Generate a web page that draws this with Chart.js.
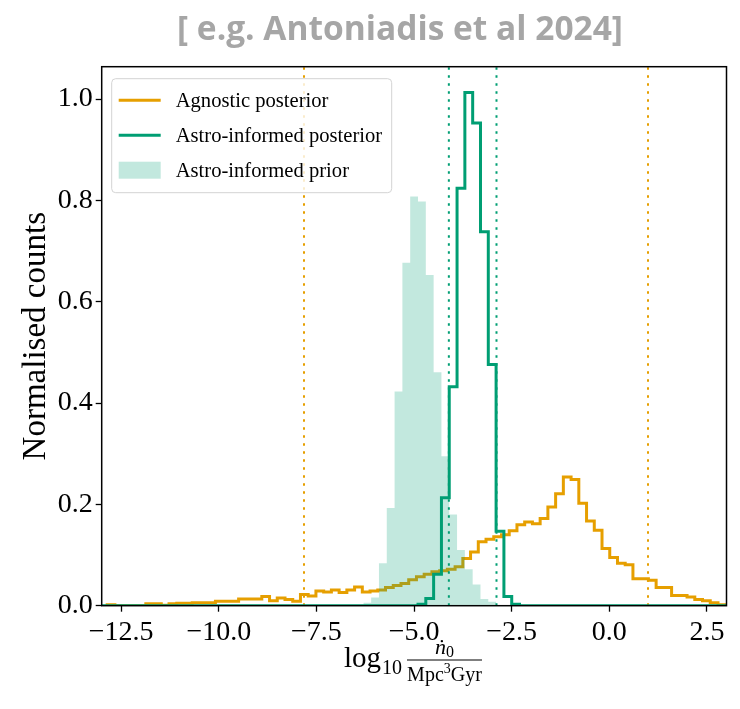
<!DOCTYPE html>
<html>
<head>
<meta charset="utf-8">
<title>Merger rate posteriors</title>
<script src="https://cdn.jsdelivr.net/npm/chart.js@4.4.1/dist/chart.umd.min.js"></script>
<style>
  html, body { margin: 0; padding: 0; background: #ffffff; }
  #wrap { width: 740px; height: 709px; position: relative; }
</style>
</head>
<body>
<div id="wrap"><canvas id="chart" width="740" height="709"></canvas></div>
<script>
// ---- axis ranges and ticks ----
const X_MIN = -13, X_MAX = 3;
const Y_MIN = 0, Y_MAX = 1.064;
const X_TICKS = [-12.5, -10, -7.5, -5, -2.5, 0, 2.5];
const Y_TICKS = [0, 0.2, 0.4, 0.6, 0.8, 1.0];

// ---- agnostic posterior: 80 equal-width bins ----
const AGNOSTIC_START = -12.86;
const AGNOSTIC_BIN = 0.198;
const AGNOSTIC_COUNTS = [
  0.002, 0.000, 0.000, 0.000, 0.000, 0.004, 0.004, 0.001, 0.004, 0.005,
  0.005, 0.006, 0.006, 0.006, 0.009, 0.009, 0.009, 0.013, 0.013, 0.013,
  0.018, 0.010, 0.015, 0.012, 0.009, 0.022, 0.019, 0.029, 0.027, 0.031,
  0.026, 0.031, 0.037, 0.027, 0.029, 0.031, 0.036, 0.040, 0.044, 0.051,
  0.057, 0.062, 0.067, 0.069, 0.072, 0.077, 0.093, 0.106, 0.126, 0.131,
  0.136, 0.140, 0.148, 0.160, 0.165, 0.162, 0.172, 0.195, 0.221, 0.254,
  0.249, 0.202, 0.167, 0.149, 0.113, 0.095, 0.084, 0.081, 0.053, 0.053,
  0.050, 0.036, 0.036, 0.020, 0.020, 0.017, 0.012, 0.010, 0.006, 0.002
];

// ---- astro-informed posterior ----
const ASTRO_START = -4.9;
const ASTRO_BIN = 0.2;
const ASTRO_COUNTS = [
  0.003, 0.014, 0.062, 0.213, 0.432, 0.824, 1.013, 0.953, 0.738, 0.476,
  0.147, 0.018, 0.003
];

// ---- astro-informed prior ----
const PRIOR_START = -6.3;
const PRIOR_BIN = 0.2;
const PRIOR_COUNTS = [
  0.006, 0.016, 0.084, 0.193, 0.423, 0.677, 0.808, 0.798, 0.653, 0.461,
  0.295, 0.180, 0.110, 0.072, 0.042, 0.013, 0.008
];

// ---- 90% credible intervals ----
const AGNOSTIC_INTERVAL = [-7.82, 0.99];
const ASTRO_INTERVAL = [-4.11, -2.89];

const ORANGE = '#E69F00';
const GREEN = '#009E73';
const PRIOR_FILL = 'rgba(0, 158, 115, 0.24)';
const SERIF = '"Liberation Serif", "DejaVu Serif", serif';

// Outline of a step histogram: up from zero at the first edge, across each
// bin, back down to zero at the last edge.
function stepOutline(start, width, counts) {
  const pts = [{ x: start, y: 0 }];
  counts.forEach((c, i) => {
    pts.push({ x: start + i * width, y: c });
    pts.push({ x: start + (i + 1) * width, y: c });
  });
  pts.push({ x: start + counts.length * width, y: 0 });
  return pts;
}

function vline(x) {
  return [{ x: x, y: Y_MIN }, { x: x, y: Y_MAX }];
}

const astroOutline = stepOutline(ASTRO_START, ASTRO_BIN, ASTRO_COUNTS);
// the posterior histogram runs along zero over the rest of the range
astroOutline.unshift({ x: X_MIN, y: 0 });
astroOutline.push({ x: X_MAX, y: 0 });

const lineBase = { showLine: true, pointRadius: 0, pointHoverRadius: 0, tension: 0, fill: false };

const datasets = [
  Object.assign({}, lineBase, {
    label: 'Astro-informed posterior',
    data: astroOutline,
    borderColor: GREEN, borderWidth: 3, borderJoinStyle: 'miter', order: 0
  }),
  Object.assign({}, lineBase, {
    label: 'astro-lo', data: vline(ASTRO_INTERVAL[0]),
    borderColor: GREEN, borderWidth: 2, borderDash: [2.5, 5.5], order: 1
  }),
  Object.assign({}, lineBase, {
    label: 'astro-hi', data: vline(ASTRO_INTERVAL[1]),
    borderColor: GREEN, borderWidth: 2, borderDash: [2.5, 5.5], order: 1
  }),
  Object.assign({}, lineBase, {
    label: 'Astro-informed prior',
    data: stepOutline(PRIOR_START, PRIOR_BIN, PRIOR_COUNTS),
    borderWidth: 0, borderColor: 'rgba(0,0,0,0)',
    backgroundColor: PRIOR_FILL, fill: 'origin', order: 2
  }),
  Object.assign({}, lineBase, {
    label: 'Agnostic posterior',
    data: stepOutline(AGNOSTIC_START, AGNOSTIC_BIN, AGNOSTIC_COUNTS),
    borderColor: ORANGE, borderWidth: 3, borderJoinStyle: 'miter', order: 3
  }),
  Object.assign({}, lineBase, {
    label: 'agn-lo', data: vline(AGNOSTIC_INTERVAL[0]),
    borderColor: ORANGE, borderWidth: 2, borderDash: [2.5, 5.5], order: 4
  }),
  Object.assign({}, lineBase, {
    label: 'agn-hi', data: vline(AGNOSTIC_INTERVAL[1]),
    borderColor: ORANGE, borderWidth: 2, borderDash: [2.5, 5.5], order: 4
  })
];

const LEGEND_ITEMS = [
  { text: 'Agnostic posterior', kind: 'line', color: ORANGE },
  { text: 'Astro-informed posterior', kind: 'line', color: GREEN },
  { text: 'Astro-informed prior', kind: 'patch', color: PRIOR_FILL }
];

function fmtTick(v) {
  return Number(v).toFixed(1).replace('-', '\u2212');
}

function roundRect(ctx, x, y, w, h, r) {
  ctx.beginPath();
  ctx.moveTo(x + r, y);
  ctx.lineTo(x + w - r, y);
  ctx.arcTo(x + w, y, x + w, y + r, r);
  ctx.lineTo(x + w, y + h - r);
  ctx.arcTo(x + w, y + h, x + w - r, y + h, r);
  ctx.lineTo(x + r, y + h);
  ctx.arcTo(x, y + h, x, y + h - r, r);
  ctx.lineTo(x, y + r);
  ctx.arcTo(x, y, x + r, y, r);
  ctx.closePath();
}

const decor = {
  id: 'decor',
  afterDraw(chart) {
    const ctx = chart.ctx;
    const a = chart.chartArea;
    ctx.save();

    // frame round the axes
    ctx.strokeStyle = '#000';
    ctx.lineWidth = 1.5;
    ctx.strokeRect(a.left, a.top, a.right - a.left, a.bottom - a.top);

    // legend
    const lx = a.left + 10, ly = a.top + 12, lw = 280, lh = 114;
    roundRect(ctx, lx, ly, lw, lh, 4);
    ctx.fillStyle = 'rgba(255,255,255,0.8)';
    ctx.fill();
    ctx.strokeStyle = '#d3d3d3';
    ctx.lineWidth = 1;
    ctx.stroke();
    ctx.font = '20.6px ' + SERIF;
    ctx.textBaseline = 'middle';
    ctx.textAlign = 'left';
    LEGEND_ITEMS.forEach((it, i) => {
      const cy = ly + 21.5 + i * 35;
      if (it.kind === 'line') {
        ctx.strokeStyle = it.color;
        ctx.lineWidth = 3;
        ctx.beginPath();
        ctx.moveTo(lx + 7, cy);
        ctx.lineTo(lx + 49, cy);
        ctx.stroke();
      } else {
        ctx.fillStyle = it.color;
        ctx.fillRect(lx + 7, cy - 8.5, 42, 17);
      }
      ctx.fillStyle = '#000';
      ctx.fillText(it.text, lx + 64, cy + 1);
    });

    // title
    ctx.font = 'bold 33.5px "Open Sans", Lato, sans-serif';
    ctx.fillStyle = '#a6a6a6';
    ctx.textAlign = 'center';
    ctx.textBaseline = 'alphabetic';
    ctx.fillText('[ e.g. Antoniadis et al 2024]', 400, 40);

    // y axis title
    ctx.save();
    ctx.translate(36, (a.top + a.bottom) / 2);
    ctx.rotate(-Math.PI / 2);
    ctx.font = '33px ' + SERIF;
    ctx.fillStyle = '#000';
    ctx.textAlign = 'center';
    ctx.textBaseline = 'middle';
    ctx.fillText('Normalised counts', 0, 0);
    ctx.restore();

    // x axis title: log10 of rate over Mpc^3 Gyr
    ctx.fillStyle = '#000';
    ctx.textAlign = 'left';
    ctx.textBaseline = 'alphabetic';
    ctx.font = '29px ' + SERIF;
    const logW = ctx.measureText('log').width;
    const x0 = 344;
    ctx.fillText('log', x0, 667);
    ctx.font = '20px ' + SERIF;
    ctx.fillText('10', x0 + logW + 1, 674);
    const fracL = 407, fracR = 482, fracC = (fracL + fracR) / 2;
    ctx.strokeStyle = '#000';
    ctx.lineWidth = 1.2;
    ctx.beginPath();
    ctx.moveTo(fracL, 660);
    ctx.lineTo(fracR, 660);
    ctx.stroke();
    // numerator
    ctx.font = 'italic 22px ' + SERIF;
    const nW = ctx.measureText('\u1E45').width;
    ctx.font = '16px ' + SERIF;
    const zW = ctx.measureText('0').width;
    let nx = fracC - (nW + zW) / 2;
    ctx.font = 'italic 22px ' + SERIF;
    ctx.fillText('\u1E45', nx, 654);
    ctx.font = '16px ' + SERIF;
    ctx.fillText('0', nx + nW, 657);
    // denominator
    ctx.font = '20px ' + SERIF;
    const mW = ctx.measureText('Mpc').width;
    const gW = ctx.measureText('Gyr').width;
    ctx.font = '14px ' + SERIF;
    const tW = ctx.measureText('3').width;
    let dx = fracC - (mW + tW + gW) / 2;
    ctx.font = '20px ' + SERIF;
    ctx.fillText('Mpc', dx, 681);
    ctx.font = '14px ' + SERIF;
    ctx.fillText('3', dx + mW, 673);
    ctx.font = '20px ' + SERIF;
    ctx.fillText('Gyr', dx + mW + tW, 681);

    ctx.restore();
  }
};

new Chart(document.getElementById('chart'), {
  type: 'scatter',
  data: { datasets: datasets },
  plugins: [decor],
  options: {
    responsive: false,
    animation: false,
    devicePixelRatio: 1,
    layout: { padding: { top: 66.7, right: 13.5, bottom: 0, left: 0 } },
    plugins: { legend: { display: false }, tooltip: { enabled: false }, title: { display: false } },
    scales: {
      x: {
        type: 'linear', min: X_MIN, max: X_MAX,
        afterBuildTicks: s => { s.ticks = X_TICKS.map(v => ({ value: v })); },
        afterFit: s => { s.height = 709 - 605.7; },
        grid: { drawOnChartArea: false, drawTicks: true, tickLength: 6, tickWidth: 1.3, tickColor: '#000' },
        border: { display: false },
        ticks: {
          color: '#000', padding: 4, maxRotation: 0, autoSkip: false,
          font: { family: SERIF, size: 28 },
          callback: v => fmtTick(v)
        }
      },
      y: {
        type: 'linear', min: Y_MIN, max: Y_MAX,
        afterBuildTicks: s => { s.ticks = Y_TICKS.map(v => ({ value: v })); },
        afterFit: s => { s.width = 101.7; },
        grid: { drawOnChartArea: false, drawTicks: true, tickLength: 6, tickWidth: 1.3, tickColor: '#000' },
        border: { display: false },
        ticks: {
          color: '#000', padding: 3, autoSkip: false,
          font: { family: SERIF, size: 28 },
          callback: v => fmtTick(v)
        }
      }
    }
  }
});
</script>
</body>
</html>
